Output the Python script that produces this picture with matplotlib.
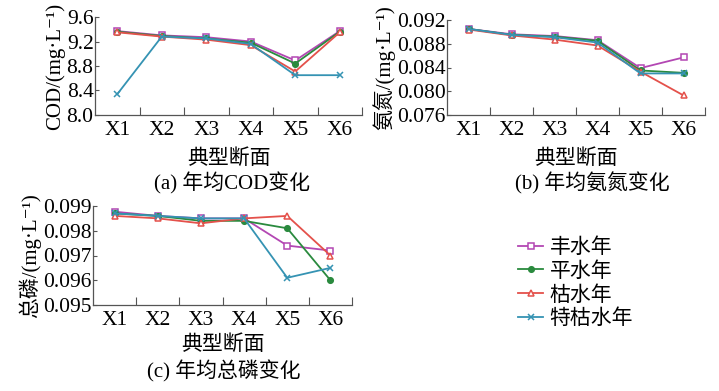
import matplotlib
matplotlib.use('Agg')
import matplotlib.pyplot as plt
from matplotlib.ticker import FixedLocator

plt.rcParams['font.family'] = ['Liberation Serif', 'Noto Sans CJK SC', 'DejaVu Serif']

sections = ['X1', 'X2', 'X3', 'X4', 'X5', 'X6']
series_names = ['丰水年', '平水年', '枯水年', '特枯水年']
colors = ['#b347b3', '#2a8a3e', '#e4514b', '#3593b3']
markers = ['s', 'o', '^', 'x']

cod_wet = [9.37, 9.30, 9.27, 9.20, 8.89, 9.37]
cod_normal = [9.36, 9.29, 9.25, 9.18, 8.84, 9.36]
cod_dry = [9.35, 9.28, 9.23, 9.14, 8.71, 9.35]
cod_extra_dry = [8.34, 9.28, 9.25, 9.16, 8.65, 8.65]

nh3_wet = [0.0905, 0.0896, 0.0893, 0.0886, 0.0839, 0.0857]
nh3_normal = [0.0905, 0.0895, 0.0892, 0.0885, 0.0835, 0.0831]
nh3_dry = [0.0904, 0.0894, 0.0887, 0.0877, 0.0833, 0.0793]
nh3_extra_dry = [0.0905, 0.0895, 0.0891, 0.0882, 0.0830, 0.0830]

tp_wet = [0.09877, 0.0986, 0.0985, 0.0985, 0.0974, 0.0972]
tp_normal = [0.0987, 0.0986, 0.0984, 0.0984, 0.0981, 0.0960]
tp_dry = [0.0986, 0.0985, 0.0983, 0.0985, 0.0986, 0.0970]
tp_extra_dry = [0.0987, 0.0986, 0.0985, 0.0985, 0.0961, 0.0965]

fig = plt.figure(figsize=(7.19, 3.91), dpi=100)
W, H = 719.0, 391.0


def make_axes(left, right, top, bottom):
    return fig.add_axes([left / W, 1 - bottom / H, (right - left) / W, (bottom - top) / H])


def draw_panel(ax, data, yticks, ylabels, ylabel, xpad):
    x = range(1, 7)
    for vals, c, m, name in zip(data, colors, markers, series_names):
        mfc = 'white' if m in ('s', '^') else c
        ms = 4 if m == 'o' else 5
        ax.plot(x, vals, color=c, marker=m, markersize=ms, markerfacecolor=mfc,
                markeredgecolor=c, markeredgewidth=1.1, linewidth=1.3, label=name)
    ax.set_xlim(0.5, 6.5)
    ax.set_ylim(yticks[0], yticks[-1])
    ax.set_xticks(list(x))
    ax.set_xticklabels(sections, fontsize=15.5)
    ax.xaxis.set_minor_locator(FixedLocator([1.5, 2.5, 3.5, 4.5, 5.5, 6.5]))
    ax.tick_params(axis='x', which='major', length=0, pad=4)
    ax.tick_params(axis='x', which='minor', direction='in', length=6, width=0.8, color='#555555')
    ax.set_yticks(yticks)
    ax.set_yticklabels(ylabels, fontsize=15.5)
    ax.tick_params(axis='y', direction='in', length=3, width=0.8, pad=1, color='#555555')
    for s in ['top', 'right']:
        ax.spines[s].set_visible(False)
    for s in ['left', 'bottom']:
        ax.spines[s].set_color('#555555')
        ax.spines[s].set_linewidth(0.9)
    ax.set_ylabel(ylabel, fontsize=15, labelpad=1)
    ax.set_xlabel('典型断面', fontsize=15, labelpad=xpad)


ax_a = make_axes(95, 362, 17, 115)
draw_panel(ax_a, [cod_wet, cod_normal, cod_dry, cod_extra_dry],
           [8.0, 8.4, 8.8, 9.2, 9.6], ['8.0', '8.4', '8.8', '9.2', '9.6'],
           'COD/(mg·L⁻¹)', 7)

ax_b = make_axes(447, 705, 20, 115)
draw_panel(ax_b, [nh3_wet, nh3_normal, nh3_dry, nh3_extra_dry],
           [0.076, 0.080, 0.084, 0.088, 0.092], ['0.076', '0.080', '0.084', '0.088', '0.092'],
           '氨氮/(mg·L⁻¹)', 7)

ax_c = make_axes(93, 352, 206, 305)
draw_panel(ax_c, [tp_wet, tp_normal, tp_dry, tp_extra_dry],
           [0.095, 0.096, 0.097, 0.098, 0.099], ['0.095', '0.096', '0.097', '0.098', '0.099'],
           '总磷/(mg·L⁻¹)', 4)

fig.text(232 / W, 1 - 183 / H, '(a) 年均COD变化', fontsize=15, ha='center', va='center')
fig.text(592 / W, 1 - 183 / H, '(b) 年均氨氮变化', fontsize=15, ha='center', va='center')
fig.text(224 / W, 1 - 371 / H, '(c) 年均总磷变化', fontsize=15, ha='center', va='center')

handles, labels = ax_c.get_legend_handles_labels()
fig.legend(handles, labels, loc='upper left', bbox_to_anchor=(510 / W, 1 - 230 / H),
           frameon=False, fontsize=15, handlelength=1.2, handletextpad=0.3,
           labelspacing=0.2, borderaxespad=0)

fig.savefig('out.png', dpi=100)
